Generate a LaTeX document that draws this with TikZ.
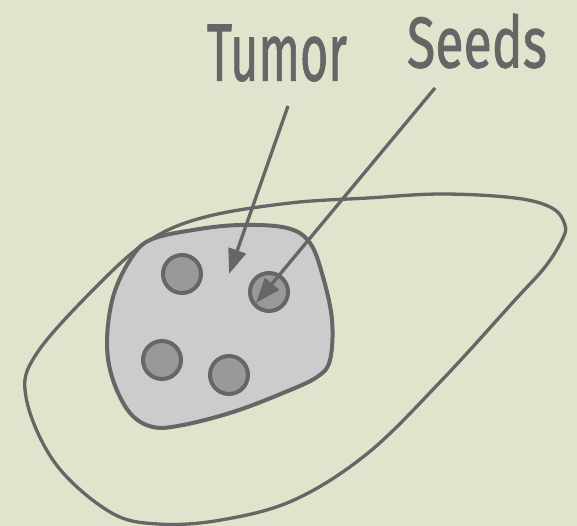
\documentclass[tikz,border=0pt]{standalone}
\usepackage{fontspec}
\setmainfont{Fira Sans}[FakeBold=1.2]
\usetikzlibrary{arrows.meta}
\definecolor{bg}{HTML}{E0E4CC}
\definecolor{ink}{HTML}{666666}
\definecolor{tumorfill}{HTML}{CCCCCC}
\definecolor{seedfill}{HTML}{999999}
\tikzset{
  organ/.style={draw=ink, line width=3.3pt},
  tumorblob/.style={draw=ink, fill=tumorfill, line width=4pt},
  seed/.style={circle, draw=ink, fill=seedfill, line width=4pt, minimum size=38pt, inner sep=0pt},
  pointer/.style={draw=ink, line width=3.3pt, -{Triangle[length=25pt,width=18pt]}},
  lbl/.style={text=ink, inner sep=0pt}
}
\begin{document}
\begin{tikzpicture}[x=1pt,y=-1pt]
\fill[bg] (0,0) rectangle (577,526);
\useasboundingbox (0,0) rectangle (577,526);
% organ outline
\draw[organ] plot[smooth cycle, tension=0.6] coordinates {
 (290,203) (368,198) (442,194) (515,198) (552,208) (565,225) (562,240) (545,267)
 (515,300) (442,380) (368,453) (294,500) (221,520) (158,524) (110,512) (55,463)
 (26,397) (37,353) (100,283) (150,240) (205,217)};
% tumor
\draw[tumorblob] plot[smooth cycle, tension=0.6] coordinates {
 (150,240) (193,230) (240,225) (287,228) (310,243) (323,277) (332,320) (330,360)
 (317,377) (283,393) (233,412) (183,425) (153,427) (130,413) (113,380) (107,343)
 (113,297) (130,260)};
% seeds
\node[seed] (s1) at (182,274) {};
\node[seed] (s2) at (269,292) {};
\node[seed] (s3) at (162,360) {};
\node[seed] (s4) at (229,375) {};
% labels
\node[lbl] (tumorlabel) at (277,53) {\resizebox{140pt}{56pt}{Tumor}};
\node[lbl] (seedslabel) at (477,41) {\resizebox{140pt}{54pt}{Seeds}};
% arrows
\coordinate (tstart) at (288,106);
\coordinate (ttip) at (229,274);
\coordinate (sstart) at (435,88);
\coordinate (stip) at (256,303);
\draw[pointer] (tstart) -- (ttip);
\draw[pointer] (sstart) -- (stip);
\end{tikzpicture}
\end{document}
